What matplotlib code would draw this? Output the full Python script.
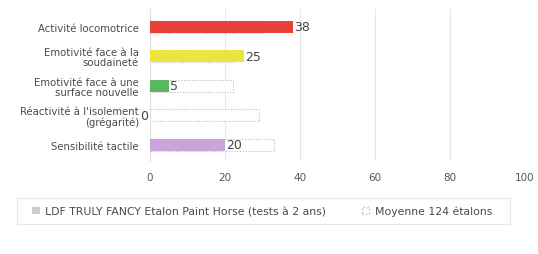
import matplotlib
matplotlib.use("Agg")
import matplotlib.pyplot as plt
from matplotlib.patches import Patch, Rectangle

plt.rcParams['font.family'] = ['DejaVu Sans']

categories = ["Activité locomotrice", "Emotivité face à la\nsoudaineté",
              "Emotivité face à une\nsurface nouvelle",
              "Réactivité à l'isolement\n(grégarité)", "Sensibilité tactile"]
horse_values = [38, 25, 5, 0, 20]
mean_values = [30, 22, 22, 29, 33]
bar_colors = ["#e8413c", "#ece53f", "#5cb85c", "#ffffff", "#c9a3dc"]
xticks = [0, 20, 40, 60, 80, 100]
legend_labels = ["LDF TRULY FANCY Etalon Paint Horse (tests à 2 ans)", "Moyenne 124 étalons"]

fig = plt.figure(figsize=(5.38, 2.55), dpi=100)
ax = fig.add_axes([0.279, 0.365, 0.697, 0.595])

y = list(range(len(categories)))
ax.barh(y, mean_values, height=0.4, color="white", edgecolor="#bbbbbb",
        linestyle=(0, (1, 1.5)), linewidth=0.8, zorder=2)
ax.barh(y, horse_values, height=0.4, color=bar_colors, edgecolor="none", zorder=3)
for yi, v in zip(y, horse_values):
    if v > 0:
        ax.text(v + 0.4, yi, str(v), va="center", ha="left", fontsize=9,
                color="#444444", zorder=4)
    else:
        ax.text(v - 1.6, yi, str(v), va="center", ha="center", fontsize=9,
                color="#444444", zorder=4)

ax.set_xlim(0, 100)
ax.set_ylim(len(categories) - 0.45, -0.6)
ax.set_yticks(y)
ax.set_yticklabels(categories, fontsize=7.3, color="#4a4a4a", linespacing=1.0)
ax.set_xticks(xticks)
ax.set_xticklabels([str(t) for t in xticks], fontsize=7.5, color="#555555")
ax.tick_params(axis="x", length=0, pad=8)
ax.tick_params(axis="y", length=0, pad=8)
ax.grid(axis="x", color="#e6e6e6", linewidth=0.8, zorder=0)
ax.set_axisbelow(True)
for s in ["top", "right", "bottom"]:
    ax.spines[s].set_visible(False)
ax.spines["left"].set_color("#e0e0e0")

handles = [Patch(facecolor="#cccccc", edgecolor="none"),
           Patch(facecolor="white", edgecolor="#bbbbbb", linestyle=":")]
leg = fig.legend(handles, legend_labels, loc="center", bbox_to_anchor=(0.487, 0.169),
                 ncol=2, fontsize=7.8, frameon=False,
                 handlelength=0.7, handleheight=0.7,
                 columnspacing=3.3, handletextpad=0.5)
for t in leg.get_texts():
    t.set_color("#4a4a4a")

fig.patches.append(Rectangle((17 / 538, 0.118), (510 - 17) / 538, 0.102,
                             transform=fig.transFigure, facecolor="none",
                             edgecolor="#e6e6e6", linewidth=0.8))

fig.savefig("out.png", dpi=100)
